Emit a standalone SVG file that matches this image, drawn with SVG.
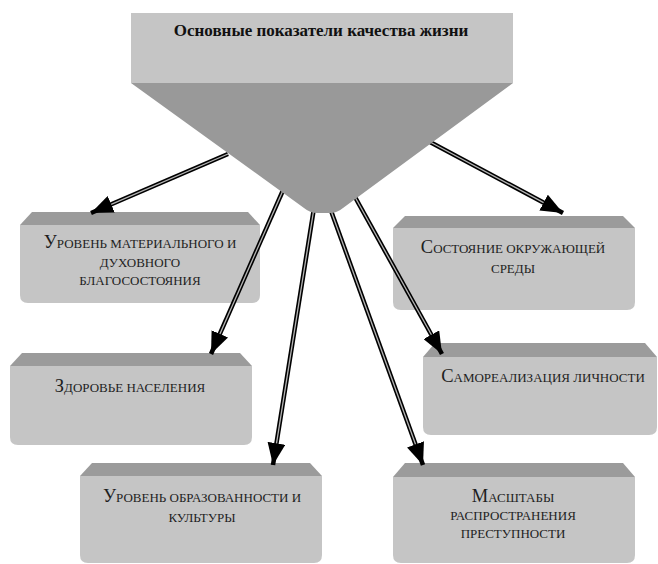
<svg xmlns="http://www.w3.org/2000/svg" width="658" height="564" viewBox="0 0 658 564">
<defs>
<style>
.top{fill:#9b9b9b}
.body{fill:#c5c5c5}
.lbl{font-family:"Liberation Serif","Times New Roman",serif;font-size:13px;text-transform:uppercase;fill:#1e1e1e;text-anchor:middle}
.cap{font-size:18.5px}
.title{font-family:"Liberation Serif","Times New Roman",serif;font-size:17px;font-weight:bold;fill:#111;text-anchor:middle}
.out{stroke:#000;stroke-width:4.5;fill:none;stroke-linecap:butt}
.in{stroke:#b5b5b5;stroke-width:1.3;fill:none}
</style>
<marker id="ah" markerUnits="userSpaceOnUse" markerWidth="22" markerHeight="18" viewBox="0 0 22 18" refX="22" refY="9" orient="auto">
<path d="M0,0 L22,9 L0,18 Z" fill="#000"/>
</marker>
</defs>
<rect width="658" height="564" fill="#fff"/>

<g id="n1">
<path class="top" d="M32,212 L248,212 L260,225 L20,225 Z"/>
<path class="body" d="M20,225 L260,225 L260,295 Q260,303 252,303 L28,303 Q20,303 20,295 Z"/>
<text class="lbl" x="140" y="248"><tspan class="cap">У</tspan>ровень материального и</text>
<text class="lbl" x="140" y="267">духовного</text>
<text class="lbl" x="140" y="285">благосостояния</text>
</g>

<g id="n2">
<path class="top" d="M405,216 L623,216 L635,228 L393,228 Z"/>
<path class="body" d="M393,228 L635,228 L635,302 Q635,310 627,310 L401,310 Q393,310 393,302 Z"/>
<text class="lbl" x="513" y="253"><tspan class="cap">С</tspan>остояние окружающей</text>
<text class="lbl" x="513" y="273">среды</text>
</g>

<g id="n3">
<path class="top" d="M22,353 L240,353 L252,366 L10,366 Z"/>
<path class="body" d="M10,366 L252,366 L252,437 Q252,445 244,445 L18,445 Q10,445 10,437 Z"/>
<text class="lbl" x="130" y="392"><tspan class="cap">З</tspan>доровье населения</text>
</g>

<g id="n4">
<path class="top" d="M435,343 L645,343 L657,357 L423,357 Z"/>
<path class="body" d="M423,357 L657,357 L657,427 Q657,435 649,435 L431,435 Q423,435 423,427 Z"/>
<text class="lbl" x="543" y="382"><tspan class="cap">С</tspan>амореализация личности</text>
</g>

<g id="n5">
<path class="top" d="M92,463 L310,463 L322,476 L80,476 Z"/>
<path class="body" d="M80,476 L322,476 L322,555 Q322,563 314,563 L88,563 Q80,563 80,555 Z"/>
<text class="lbl" x="202" y="502"><tspan class="cap">У</tspan>ровень образованности и</text>
<text class="lbl" x="202" y="522">культуры</text>
</g>

<g id="n6">
<path class="top" d="M405,463 L623,463 L635,477 L393,477 Z"/>
<path class="body" d="M393,477 L635,477 L635,555 Q635,563 627,563 L401,563 Q393,563 393,555 Z"/>
<text class="lbl" x="513" y="502"><tspan class="cap">М</tspan>асштабы</text>
<text class="lbl" x="513" y="520">распространения</text>
<text class="lbl" x="513" y="538">преступности</text>
</g>

<g id="connectors">
<path class="out" d="M228,154 L91,213" marker-end="url(#ah)"/>
<path class="in" d="M228,154 L111.2,204.3"/>
<path class="out" d="M284,188 L211,354" marker-end="url(#ah)"/>
<path class="in" d="M284,188 L219.9,333.9"/>
<path class="out" d="M314,208 L273,465" marker-end="url(#ah)"/>
<path class="in" d="M314,208 L276.5,443.3"/>
<path class="out" d="M330,208 L423,465" marker-end="url(#ah)"/>
<path class="in" d="M330,208 L415.5,444.3"/>
<path class="out" d="M350,188 L442,354" marker-end="url(#ah)"/>
<path class="in" d="M350,188 L431.4,334.8"/>
<path class="out" d="M430,142 L563,213" marker-end="url(#ah)"/>
<path class="in" d="M430,142 L543.6,202.6"/>
</g>

<g id="n0">
<path fill="#999" d="M131,83 L513,83 L343,208 Q337,213 330,213 L317,213 Q310,213 304,208 Z"/>
<rect x="131" y="13" width="382" height="70" fill="#c5c5c5"/>
<text class="title" x="321" y="36">Основные показатели качества жизни</text>
</g>
</svg>
